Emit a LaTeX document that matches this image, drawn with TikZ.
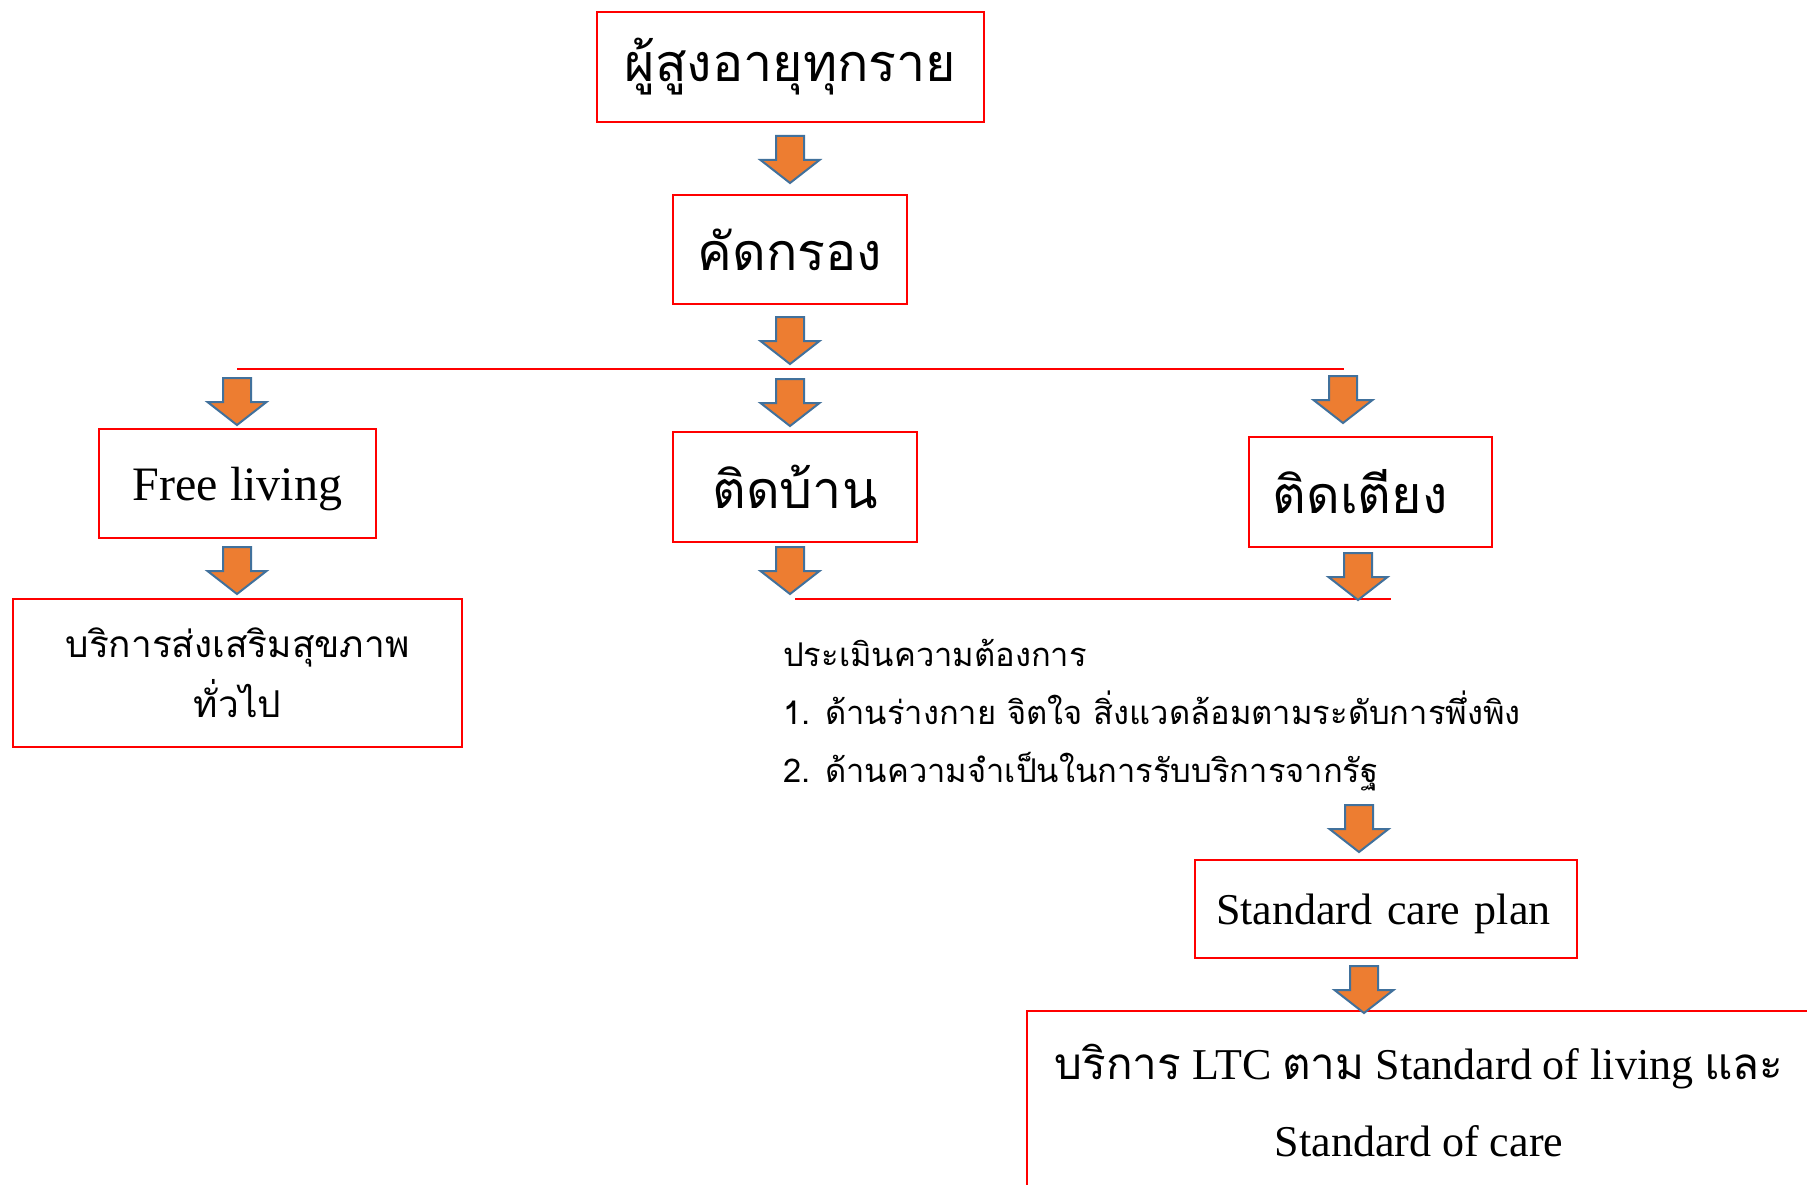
\documentclass[tikz,border=0pt]{standalone}
\usepackage{fontspec}
\setmainfont{Liberation Serif}
\newfontfamily\thai[Script=Thai]{Loma}
\definecolor{boxred}{HTML}{FF0000}
\definecolor{arrfill}{HTML}{ED7D31}
\definecolor{arrline}{HTML}{41719C}
\begin{document}
\begin{tikzpicture}[x=1pt,y=-1pt,
  box/.style={draw=boxred, line width=2, inner sep=0, align=center},
  redline/.style={draw=boxred, line width=1.5},
  arrowstyle/.style={fill=arrfill, draw=arrline, line width=2, line join=miter},
  darrow/.pic={\path[arrowstyle] (-14,0) -- (14,0) -- (14,24) -- (29.5,24) -- (0,47) -- (-29.5,24) -- (-14,24) -- cycle;},
  bigthai/.style={font=\thai\fontsize{52}{60}\selectfont}]
\clip (0,0) rectangle (1807,1185);
\fill[white] (0,0) rectangle (1807,1185);

\node[box, bigthai, minimum width=387, minimum height=110] (all) at (790.5,67) {ผู้สูงอายุทุกราย};
\node[box, bigthai, minimum width=234, minimum height=109] (screen) at (790,249.5) {คัดกรอง};
\node[box, font=\fontsize{48}{54}\selectfont, text depth=0pt, minimum width=277, minimum height=109] (free) at (237.5,483.5) {Free living};
\node[box, font=\thai\fontsize{37}{60}\selectfont, minimum width=449, minimum height=148] (promo) at (237.5,673) {บริการส่งเสริมสุขภาพ\\ทั่วไป};
\node[box, bigthai, minimum width=244, minimum height=110] (home) at (795,487) {ติดบ้าน};
\node[box, bigthai, minimum width=243, minimum height=110, text width=196, align=left] (bed) at (1370.5,492) {ติดเตียง};
\node[anchor=west, align=left, inner sep=0, font=\thai\fontsize{32.7}{58}\selectfont] (assess) at (783,715) {ประเมินความต้องการ\\1. ด้านร่างกาย จิตใจ สิ่งแวดล้อมตามระดับการพึ่งพิง\\2. ด้านความจำเป็นในการรับบริการจากรัฐ};
\node[box, font=\fontsize{44}{52}\selectfont, text depth=0pt, minimum width=382, minimum height=98, text width=340, align=left] (scp) at (1386,909) {Standard care plan};
\node[box, font=\fontsize{44}{77}\selectfont, minimum width=784, minimum height=180] (ltc) at (1419,1101) {{\thai บริการ} LTC {\thai ตาม} Standard of living {\thai และ}\\Standard of care};

\coordinate (l1a) at (237,369);
\coordinate (l1b) at (1344,369);
\coordinate (l2a) at (795,599);
\coordinate (l2b) at (1391,599);
\draw[redline] (l1a) -- (l1b);
\draw[redline] (l2a) -- (l2b);

\pic at (790,136) {darrow};
\pic at (790,317) {darrow};
\pic at (237,378) {darrow};
\pic at (790,379) {darrow};
\pic at (1343,376) {darrow};
\pic at (237,547) {darrow};
\pic at (790,547) {darrow};
\pic at (1358,553) {darrow};
\pic at (1359,805) {darrow};
\pic at (1364,966) {darrow};
\end{tikzpicture}
\end{document}
